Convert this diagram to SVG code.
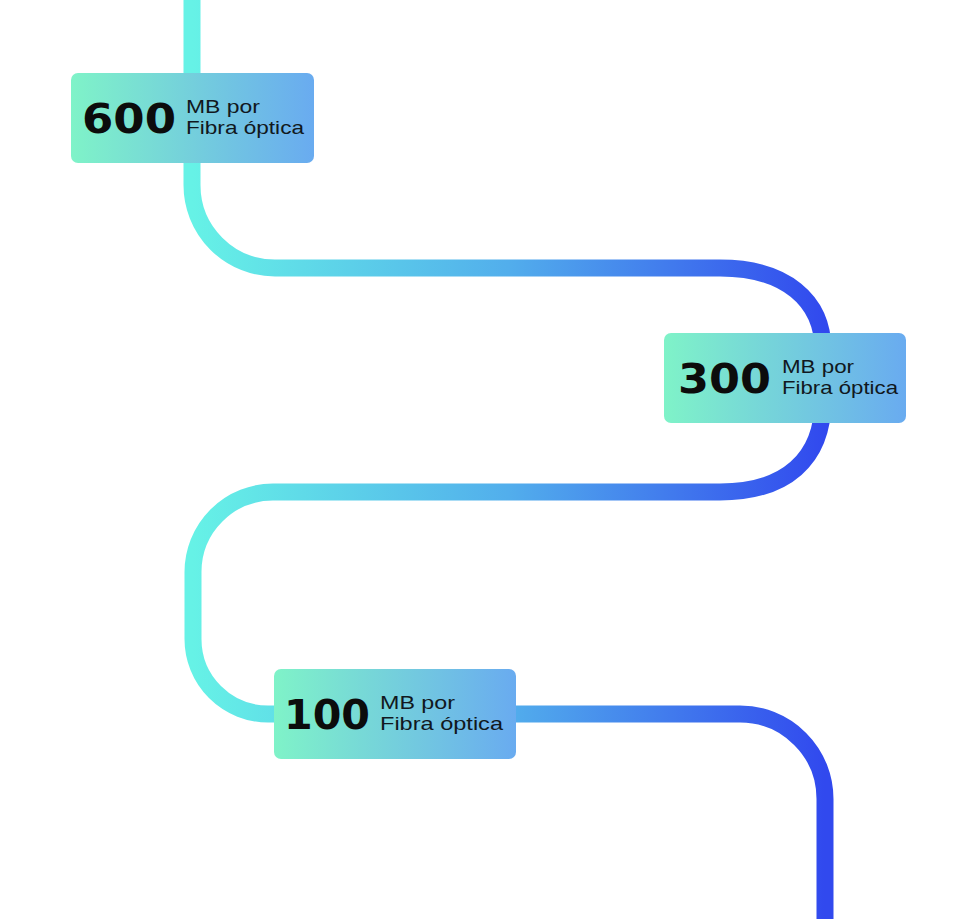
<svg xmlns="http://www.w3.org/2000/svg" width="979" height="919" viewBox="0 0 979 919">
<defs>
<linearGradient id="line" gradientUnits="userSpaceOnUse" x1="192" y1="0" x2="825" y2="0">
<stop offset="0" stop-color="#66F2E6"/>
<stop offset="0.5" stop-color="#52AEEC"/>
<stop offset="1" stop-color="#3149EE"/>
</linearGradient>
<linearGradient id="box" x1="0" y1="0" x2="1" y2="0">
<stop offset="0" stop-color="#7FF3C8"/>
<stop offset="1" stop-color="#69ABF0"/>
</linearGradient>
</defs>
<style>
.card{fill:url(#box)}
.num{font-family:"DejaVu Sans",sans-serif;font-weight:700;font-size:41px;fill:#0c0c0c}
.lbl{font-family:"Liberation Sans",sans-serif;font-size:19px;fill:#111820}
.conn{fill:none;stroke:url(#line);stroke-width:17}
</style>
<g id="connectors">
<path class="conn" d="M 192 0 V 185 A 83 83 0 0 0 275 268 H 720 C 785 268 823 300 823 350 V 400 C 823 460 785 492 720 492 H 273 A 80 80 0 0 0 193 572 V 639 A 75 75 0 0 0 268 714 H 740 A 85 85 0 0 1 825 799 V 919"/>
</g>
<g id="node-600">
<rect class="card" x="71" y="73" width="243" height="90" rx="7"/>
<text class="num" x="82" y="133" textLength="94" lengthAdjust="spacingAndGlyphs">600</text>
<text class="lbl" x="186" y="113" textLength="74" lengthAdjust="spacingAndGlyphs">MB por</text>
<text class="lbl" x="186" y="134" textLength="118" lengthAdjust="spacingAndGlyphs">Fibra óptica</text>
</g>
<g id="node-300">
<rect class="card" x="664" y="333" width="242" height="90" rx="7"/>
<text class="num" x="678" y="393" textLength="93" lengthAdjust="spacingAndGlyphs">300</text>
<text class="lbl" x="782" y="373" textLength="72" lengthAdjust="spacingAndGlyphs">MB por</text>
<text class="lbl" x="782" y="394" textLength="116" lengthAdjust="spacingAndGlyphs">Fibra óptica</text>
</g>
<g id="node-100">
<rect class="card" x="274" y="669" width="242" height="90" rx="7"/>
<text class="num" x="284" y="729" textLength="86" lengthAdjust="spacingAndGlyphs">100</text>
<text class="lbl" x="380" y="709" textLength="75" lengthAdjust="spacingAndGlyphs">MB por</text>
<text class="lbl" x="380" y="730" textLength="123" lengthAdjust="spacingAndGlyphs">Fibra óptica</text>
</g>
</svg>
